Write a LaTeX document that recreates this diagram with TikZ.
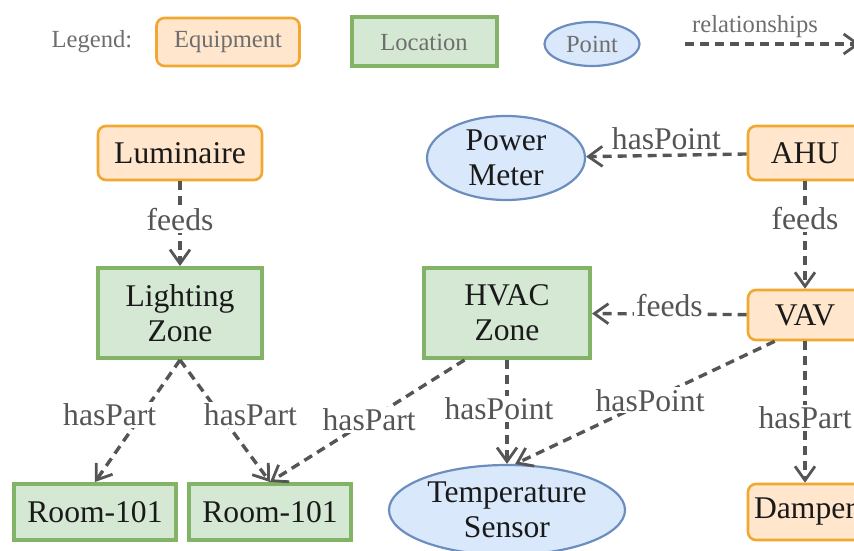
\documentclass[tikz,border=0pt]{standalone}
\usepackage{fontspec}
\setmainfont{Liberation Serif}
\usetikzlibrary{shapes.geometric, arrows.meta, positioning, calc}
\definecolor{eqfill}{HTML}{FFE6CC}
\definecolor{eqdraw}{HTML}{F0A830}
\definecolor{locfill}{HTML}{D5E8D4}
\definecolor{locdraw}{HTML}{82B366}
\definecolor{ptfill}{HTML}{DAE8FC}
\definecolor{ptdraw}{HTML}{6C8EBF}
\definecolor{edgegray}{HTML}{555555}
\definecolor{textgray}{HTML}{1A1A1A}

\begin{document}
\begin{tikzpicture}[
    x=0.5pt, y=-0.5pt,
    main/.style={font=\fontsize{15.8}{17.5}\selectfont, text=textgray, align=center, inner sep=0pt},
    equip/.style={main, rectangle, rounded corners=4pt, draw=eqdraw, line width=1.3pt, fill=eqfill, minimum width=#1, minimum height=27pt},
    equip/.default=57pt,
    location/.style={main, rectangle, draw=locdraw, line width=2pt, fill=locfill, minimum width=82pt, minimum height=#1},
    location/.default=45pt,
    pointnode/.style={main, ellipse, draw=ptdraw, line width=1.1pt, fill=ptfill, minimum width=79pt, minimum height=42pt},
    legtext/.style={font=\fontsize{12.3}{14}\selectfont, text=edgegray!85},
    rel/.style={draw=edgegray, line width=1.7pt, dash pattern=on 4.5pt off 3pt, -{Straight Barb[length=7pt,width=10pt,line width=1.4pt]}},
    lbl/.style={font=\fontsize{15.8}{17.5}\selectfont, text=edgegray, fill=white, inner sep=1pt}
]
\useasboundingbox (0,0) rectangle (854,550);
\clip (0,0) rectangle (854,550);

% legend
\node[legtext] (legend) at (92,42) {Legend:};
\node[equip=71.5pt, minimum height=24pt, legtext] (legequip) at (228,42) {Equipment};
\node[location, minimum width=72.5pt, minimum height=24.5pt, legtext] (legloc) at (424,42) {Location};
\node[pointnode, minimum width=47.5pt, minimum height=22pt, legtext] (legpoint) at (592,44) {Point};
\node[legtext] (reltxt) at (755,27) {relationships};
\coordinate (relA) at (685,44);
\coordinate (relB) at (860,44);
\draw[rel, line width=2.3pt] (relA) -- (relB);

% nodes
\node[equip=82pt] (lum) at (180,153) {Luminaire};
\node[location] (lz) at (180,313) {Lighting\\Zone};
\node[pointnode] (pm) at (506,158) {Power\\Meter};
\node[equip] (ahu) at (805,153) {AHU};
\node[location=45pt, minimum width=83pt] (hvac) at (507,313) {HVAC\\Zone};
\node[equip, minimum height=25pt] (vav) at (805,315) {VAV};
\node[location=28pt, minimum width=81pt] (room1) at (95,512) {Room-101};
\node[location=28pt, minimum width=81pt] (room2) at (270,512) {Room-101};
\node[pointnode, minimum width=118pt, minimum height=45pt] (ts) at (507,510) {Temperature\\Sensor};
\node[equip, minimum height=28pt] (damper) at (805,512) {Damper};

% relationships
\draw[rel] (lum) -- node[lbl, pos=0.45]{feeds} (lz);
\draw[rel] (ahu) -- node[lbl, above=1pt]{hasPoint} (pm);
\draw[rel] (ahu) -- node[lbl, pos=0.35]{feeds} (vav);
\draw[rel] (vav) -- node[lbl, above=-3pt]{feeds} (hvac);
\draw[rel] (lz.south) -- node[lbl, pos=0.45, xshift=-16pt]{hasPart} (room1.north);
\draw[rel] (lz.south) -- node[lbl, pos=0.45, xshift=15pt]{hasPart} (room2.north);
\draw[rel] ($(hvac.south west)!0.25!(hvac.south east)$) -- node[lbl, pos=0.49]{hasPart} (room2.north);
\draw[rel] (hvac.south) -- node[lbl, pos=0.47, xshift=-4pt]{hasPoint} (ts.north);
\draw[rel] ($(vav.south west)!0.24!(vav.south east)$) -- node[lbl, pos=0.48]{hasPoint} (ts.80);
\draw[rel] (vav.south) -- node[lbl, pos=0.54]{hasPart} (damper.north);
\end{tikzpicture}
\end{document}
